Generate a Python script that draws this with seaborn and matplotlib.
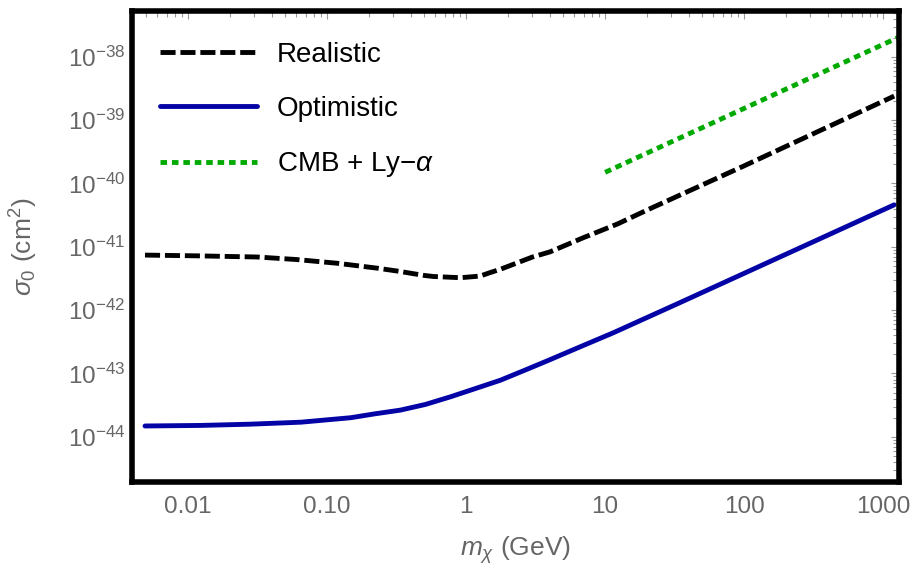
import numpy as np
import pandas as pd
import seaborn as sns
import matplotlib
matplotlib.use("Agg")
import matplotlib.pyplot as plt
from matplotlib.ticker import LogLocator, NullFormatter

# values (GeV, cm^2)
m_realistic = [0.0049, 0.0116, 0.0316, 0.060, 0.118, 0.229, 0.33, 0.49, 0.58, 0.91,
               1.26, 1.48, 1.78, 3.0, 4.0, 6.9, 12.3, 20, 100, 1200]
sigma_realistic = [7.4e-42, 7.2e-42, 6.9e-42, 6.3e-42, 5.5e-42, 4.6e-42, 4.1e-42, 3.55e-42,
                   3.4e-42, 3.25e-42, 3.45e-42, 3.9e-42, 4.45e-42, 6.9e-42, 8.3e-42,
                   1.38e-41, 2.3e-41, 3.8e-41, 1.9e-40, 2.4e-39]

m_optimistic = [0.0049, 0.0123, 0.028, 0.065, 0.148, 0.22, 0.335, 0.51, 0.77, 1.16, 1.76,
                2.63, 3.83, 6.6, 11.4, 34.7, 1200]
sigma_optimistic = [1.48e-44, 1.51e-44, 1.58e-44, 1.70e-44, 2.0e-44, 2.3e-44, 2.63e-44,
                    3.24e-44, 4.27e-44, 5.75e-44, 7.8e-44, 1.12e-43, 1.58e-43, 2.63e-43,
                    4.37e-43, 1.32e-42, 4.6e-41]

m_cmb = [10, 1300]
sigma_cmb = [1.5e-40, 2.05e-38]

labels = ["Realistic", "Optimistic", r"CMB + Ly$-\alpha$"]
colors = ["black", "#0404a6", "#00aa00"]
line_dashes = [(3.1, 1.0), "", (1.35, 1.0)]

x_ticks = [0.01, 0.1, 1, 10, 100, 1000]
x_tick_labels = ["0.01", "0.10", "1", "10", "100", "1000"]
y_ticks = [1e-44, 1e-43, 1e-42, 1e-41, 1e-40, 1e-39, 1e-38]

df = pd.concat([
    pd.DataFrame({"m": m_realistic, "sigma": sigma_realistic, "limit": labels[0]}),
    pd.DataFrame({"m": m_optimistic, "sigma": sigma_optimistic, "limit": labels[1]}),
    pd.DataFrame({"m": m_cmb, "sigma": sigma_cmb, "limit": labels[2]}),
], ignore_index=True)

sns.set_style("white")
plt.rcParams["font.family"] = ["Liberation Sans", "DejaVu Sans"]
plt.rcParams["mathtext.fontset"] = "custom"
plt.rcParams["mathtext.rm"] = "Liberation Sans"
plt.rcParams["mathtext.it"] = "Liberation Sans:italic"

gray = "#666666"

fig, ax = plt.subplots(figsize=(9.13, 5.75), dpi=100)
fig.subplots_adjust(left=132/913, right=899/913, top=1-11/575, bottom=1-482/575)

sns.lineplot(data=df, x="m", y="sigma", hue="limit", style="limit",
             hue_order=labels, style_order=labels,
             palette=dict(zip(labels, colors)), dashes=dict(zip(labels, line_dashes)),
             lw=3.5, errorbar=None, legend=False, ax=ax)

ax.set_xscale("log")
ax.set_yscale("log")
ax.set_xlim(0.00395, 1300)
ax.set_ylim(1.93e-45, 5.3e-38)

ax.set_xticks(x_ticks, x_tick_labels)
ax.set_yticks(y_ticks)
ax.xaxis.set_minor_locator(LogLocator(base=10, subs=np.arange(2, 10), numticks=100))
ax.yaxis.set_minor_locator(LogLocator(base=10, subs=np.arange(2, 10), numticks=100))
ax.xaxis.set_minor_formatter(NullFormatter())
ax.yaxis.set_minor_formatter(NullFormatter())

ax.tick_params(which="both", direction="in", top=True, right=True,
               color="#9a9a9a", labelcolor=gray, labelsize=17.5, width=0.8)
ax.tick_params(which="major", length=6)
ax.tick_params(which="minor", length=4)
ax.tick_params(axis="x", which="major", pad=10)
ax.tick_params(axis="y", which="major", pad=5)

for sp in ax.spines.values():
    sp.set_linewidth(4)
    sp.set_color("black")

ax.set_xlabel(r"$m_\chi$ (GeV)", fontsize=19, color=gray, labelpad=12)
ax.set_ylabel(r"$\sigma_0$ (cm$^2$)", fontsize=19, color=gray)
ax.yaxis.set_label_coords(-0.12, 0.5)

ax.legend(handles=ax.lines[:3], labels=labels, loc="upper left",
          bbox_to_anchor=(0.0365, 0.935), frameon=False, fontsize=20,
          labelcolor="black", handlelength=3.5, handletextpad=0.7,
          labelspacing=1.02, borderpad=0, borderaxespad=0)

fig.savefig("out.png", dpi=100)
